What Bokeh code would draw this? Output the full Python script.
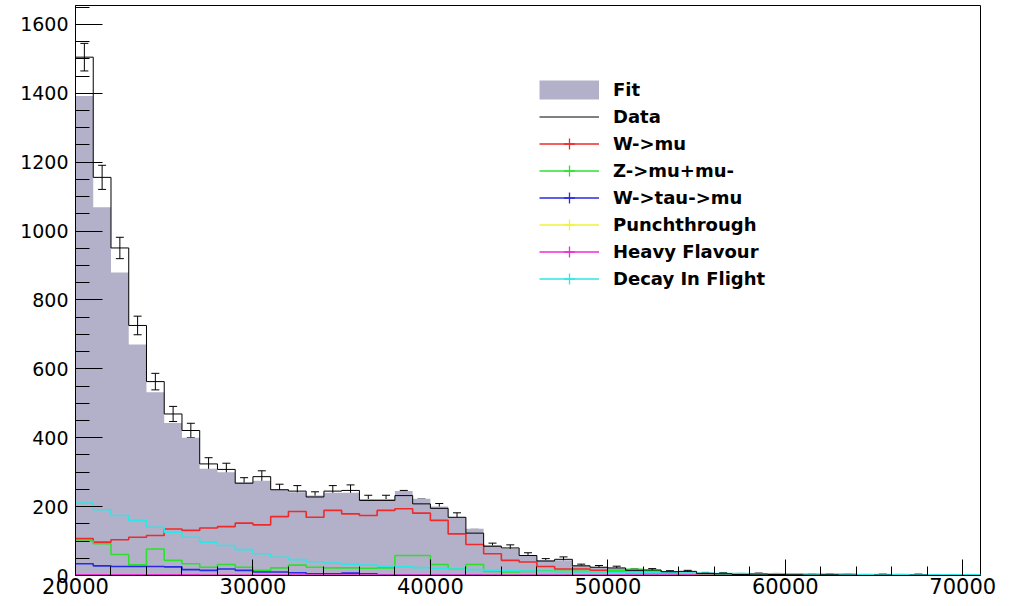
from bokeh.plotting import figure
from bokeh.models import (Range1d, SingleIntervalTicker, Legend, LegendItem,
                          ColumnDataSource, Whisker, TeeHead)
from bokeh.embed import file_html
from bokeh.resources import INLINE

# ---- data (bins of width 1000 from 20000 to 71000) ----
bin_start = 20000
bin_width = 1000
n_bins = 51

data = [1505, 1156, 951, 726, 563, 469, 421, 324, 308, 268,
        287, 249, 245, 228, 245, 247, 218, 218, 232, 208,
        195, 169, 123, 85, 80, 58, 42, 47, 28, 24,
        22, 15, 16, 11, 12, 6, 5, 3, 4, 3,
        2, 1, 2, 1, 0, 1, 0, 1, 0, 0, 0]
data_err = [40, 35, 31, 27, 24, 22, 21, 18, 18, 16,
            17, 16, 16, 15, 16, 16, 15, 15, 15, 14,
            14, 13, 11, 9, 9, 8, 7, 7, 5, 5,
            5, 4, 4, 3, 3, 3, 3, 3, 3, 3,
            3, 3, 3, 3, 3, 3, 3, 3, 3, 3, 3]
fit = [1392, 1069, 880, 671, 532, 443, 400, 310, 300, 270,
       275, 250, 242, 232, 240, 240, 222, 222, 245, 223,
       200, 170, 136, 88, 78, 58, 45, 44, 30, 25,
       22, 17, 14, 12, 11, 7, 6, 5, 4, 3,
       3, 2, 2, 2, 1, 1, 1, 1, 1, 1, 1]
w_mu = [107, 97, 104, 111, 116, 135, 131, 138, 142, 152,
        147, 171, 186, 169, 189, 179, 174, 189, 194, 181,
        160, 121, 90, 63, 44, 39, 26, 19, 19, 15,
        10, 9, 8, 8, 5, 3, 3, 3, 2, 2,
        2, 1, 1, 1, 1, 1, 0, 0, 0, 0, 0]
z_mumu = [100, 92, 61, 31, 77, 44, 34, 24, 32, 24,
          15, 22, 30, 24, 22, 22, 21, 22, 58, 58,
          32, 19, 32, 12, 10, 12, 14, 12, 12, 10,
          15, 18, 14, 8, 6, 5, 4, 3, 2, 2,
          1, 1, 1, 1, 0, 0, 0, 0, 0, 0, 0]
w_tau_mu = [34, 28, 26, 26, 26, 25, 17, 15, 19, 15,
            10, 10, 8, 5, 5, 7, 5, 2, 2, 1,
            1, 1, 1, 0, 0, 0, 0, 0, 0, 0,
            0, 0, 0, 0, 0, 0, 0, 0, 0, 0,
            0, 0, 0, 0, 0, 0, 0, 0, 0, 0, 0]
punchthrough = [1, 1, 1, 1, 1, 1, 0, 0, 0, 0,
                0, 0, 0, 0, 0, 0, 0, 0, 0, 0,
                0, 0, 0, 0, 0, 0, 0, 0, 0, 0,
                0, 0, 0, 0, 0, 0, 0, 0, 0, 0,
                0, 0, 0, 0, 0, 0, 0, 0, 0, 0, 0]
heavy_flavour = [2, 2, 2, 2, 2, 2, 2, 1, 1, 1,
                 1, 1, 1, 1, 1, 1, 1, 1, 1, 1,
                 1, 1, 1, 1, 1, 1, 1, 1, 1, 1,
                 1, 1, 1, 1, 1, 0, 0, 0, 0, 0,
                 0, 0, 0, 0, 0, 0, 0, 0, 0, 0, 0]
decay_in_flight = [210, 191, 174, 160, 140, 126, 111, 97, 87, 75,
                   63, 53, 46, 40, 36, 33, 30, 27, 25, 23,
                   21, 19, 17, 15, 14, 13, 12, 11, 10, 10,
                   9, 9, 8, 8, 7, 7, 6, 6, 5, 5,
                   5, 4, 4, 4, 3, 3, 3, 2, 2, 2, 2]

x_ticks_interval = 10000
y_ticks_interval = 200

# ---- derived ----
edges = [bin_start + bin_width * i for i in range(n_bins + 1)]
centers = [bin_start + bin_width * (i + 0.5) for i in range(n_bins)]

def stepy(v):
    return list(v) + [v[-1]]

FIT_COLOR = "#b3b1c9"
FONT = "DejaVu Sans"

p = figure(width=1010, height=604, output_backend="svg", toolbar_location=None,
           x_range=Range1d(20000, 71000), y_range=Range1d(0, 1655),
           min_border_left=75, min_border_right=30, min_border_top=5,
           min_border_bottom=29)
p.xgrid.visible = False
p.ygrid.visible = False
p.outline_line_color = "black"
p.outline_line_width = 1
p.background_fill_color = "white"
p.border_fill_color = "white"

# fit (filled)
p.varea_step(x=edges, y1=[0] * (n_bins + 1), y2=stepy(fit), step_mode="after",
             fill_color=FIT_COLOR)

comps = [
    ("W->mu", w_mu, "#ee2a2a"),
    ("Z->mu+mu-", z_mumu, "#2ee02e"),
    ("W->tau->mu", w_tau_mu, "#2a2ae6"),
    ("Punchthrough", punchthrough, "#f2f23a"),
    ("Heavy Flavour", heavy_flavour, "#f02ad8"),
    ("Decay In Flight", decay_in_flight, "#2ee6e6"),
]
comp_renderers = []
for name, vals, col in comps:
    r = p.step(x=edges, y=stepy(vals), mode="after", line_color=col, line_width=1.6)
    # legend-only marker (vertical tick), hidden in the plot
    m = p.scatter(x=centers, y=vals, marker="cross", line_color=col, line_width=1.3,
                  visible=False)
    comp_renderers.append((name, [r, m]))

# data
data_step = p.step(x=edges, y=stepy(data), mode="after", line_color="black", line_width=1)
src = ColumnDataSource(dict(
    base=centers,
    upper=[d + e for d, e in zip(data, data_err)],
    lower=[d - e for d, e in zip(data, data_err)],
))
wh = Whisker(source=src, base="base", upper="upper", lower="lower", dimension="height",
             line_color="black", line_width=1,
             upper_head=TeeHead(size=8, line_color="black", line_width=1),
             lower_head=TeeHead(size=8, line_color="black", line_width=1))
p.add_layout(wh)

# legend-only renderer for the fit box (hidden in the plot)
fit_leg = p.line(x=centers, y=fit, line_color=FIT_COLOR, line_width=19, visible=False)

items = [LegendItem(label="Fit", renderers=[fit_leg]),
         LegendItem(label="Data", renderers=[data_step])]
for name, rs in comp_renderers:
    items.append(LegendItem(label=name, renderers=rs))

legend = Legend(items=items, location=(464, 283), glyph_width=60, glyph_height=27,
                label_standoff=14, spacing=0, padding=0, margin=0,
                label_text_font=FONT, label_text_font_style="bold",
                label_text_font_size="18px", label_text_color="black",
                border_line_alpha=0, background_fill_alpha=0)
p.add_layout(legend, "center")

# axes
p.xaxis.ticker = SingleIntervalTicker(interval=x_ticks_interval, num_minor_ticks=5)
p.yaxis.ticker = SingleIntervalTicker(interval=y_ticks_interval, num_minor_ticks=4)
for ax in (p.xaxis[0], p.yaxis[0]):
    ax.axis_line_color = "black"
    ax.major_tick_line_color = "black"
    ax.minor_tick_line_color = "black"
    ax.major_tick_out = 0
    ax.minor_tick_out = 0
    ax.major_label_text_font = FONT
    ax.major_label_text_color = "black"
p.xaxis.major_tick_in = 16
p.xaxis.minor_tick_in = 9
p.yaxis.major_tick_in = 27
p.yaxis.minor_tick_in = 14
p.xaxis.major_label_text_font_size = "21px"
p.yaxis.major_label_text_font_size = "19px"
p.xaxis.major_label_standoff = 2
p.yaxis.major_label_standoff = 7

open("out.html", "w").write(file_html(p, INLINE))
